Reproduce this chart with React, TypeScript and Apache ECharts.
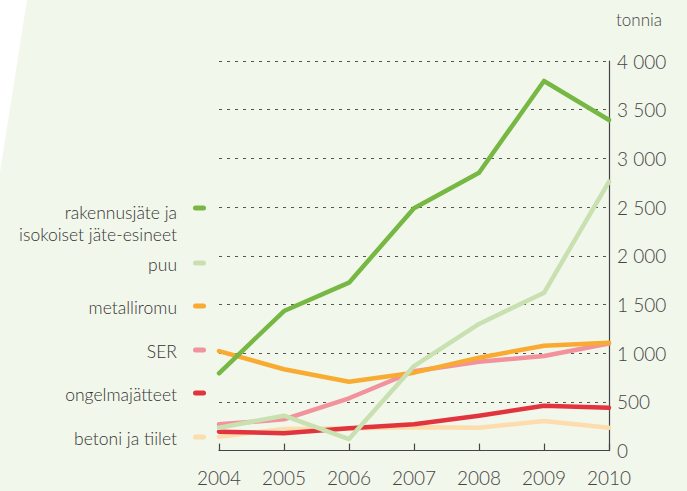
import React, { useEffect, useRef } from "react";
import * as echarts from "echarts";

const years = ["2004", "2005", "2006", "2007", "2008", "2009", "2010"];
const seriesNames = [
  "rakennusjäte ja\nisokoiset jäte-esineet",
  "puu",
  "metalliromu",
  "SER",
  "ongelmajätteet",
  "betoni ja tiilet",
];
const rakennusjate = [794, 1433, 1724, 2488, 2853, 3795, 3394];
const puu = [235, 358, 119, 868, 1300, 1620, 2761];
const metalliromu = [1022, 835, 707, 800, 954, 1077, 1108];
const ser = [270, 321, 537, 815, 913, 971, 1100];
const ongelmajatteet = [194, 178, 229, 270, 358, 461, 440];
const betoni = [143, 222, 228, 239, 235, 304, 235];
const yTicks = [0, 500, 1000, 1500, 2000, 2500, 3000, 3500, 4000];
const unitLabel = "tonnia";

const colors = ["#76b843", "#c9e0b1", "#f9aa30", "#f2929c", "#e2343f", "#fddcae"];
const values = [rakennusjate, puu, metalliromu, ser, ongelmajatteet, betoni];
const legendY = [208, 263, 306, 350, 393, 437];

const FONT = "Lato, 'Noto Sans', sans-serif";

export default function App() {
  const ref = useRef<HTMLDivElement>(null);
  useEffect(() => {
    if (!ref.current) return;
    const chart = echarts.init(ref.current, null, { renderer: "svg" });
    const series: any[] = values
      .map((v, i) => ({
        type: "line",
        name: seriesNames[i],
        data: v,
        symbol: "none",
        lineStyle: { color: colors[i], width: 4.5, cap: "round", join: "round" },
        itemStyle: { color: colors[i] },
      }))
      .reverse();

    const graphics: any[] = [
      {
        type: "polygon",
        silent: true,
        z: -10,
        shape: { points: [[0, 0], [27, 0], [0, 172]] },
        style: { fill: "#ffffff" },
      },
      {
        type: "text",
        x: 662,
        y: 19,
        style: {
          text: unitLabel,
          fill: "#444",
          font: `300 17px ${FONT}`,
          textAlign: "right",
          textVerticalAlign: "middle",
        },
      },
    ];
    seriesNames.forEach((n, i) => {
      const lines = n.split("\n");
      const multi = lines.length > 1;
      lines.forEach((ln, j) => {
        graphics.push({
          type: "text",
          x: 177,
          y: legendY[i] + (multi ? 4 : 1) + j * 22,
          style: {
            text: ln,
            fill: "#333",
            font: `300 17.5px ${FONT}`,
            textAlign: "right",
            textVerticalAlign: "middle",
          },
        });
      });
      graphics.push({
        type: "rect",
        shape: { x: 193, y: legendY[i] - 2.5, width: 13, height: 5, r: 2.5 },
        style: { fill: colors[i] },
      });
    });

    chart.setOption({
      animation: false,
      backgroundColor: "#f2f7eb",
      grid: { left: 219, right: 78, top: 61, bottom: 40.4, containLabel: false },
      xAxis: {
        type: "category",
        data: years,
        boundaryGap: false,
        axisLine: { show: true, lineStyle: { color: "#444", width: 1.2 } },
        axisTick: { show: true, inside: true, length: 7, lineStyle: { color: "#444", width: 1.2 } },
        axisLabel: { color: "#444", fontSize: 19, fontFamily: FONT, fontWeight: 300, margin: 17 },
        splitLine: { show: false },
      },
      yAxis: {
        type: "value",
        position: "right",
        min: 0,
        max: yTicks[yTicks.length - 1],
        interval: yTicks[1] - yTicks[0],
        axisLine: { show: true, lineStyle: { color: "#444", width: 1.2 } },
        axisTick: { show: false },
        axisLabel: {
          color: "#444",
          fontSize: 19,
          fontFamily: FONT,
          fontWeight: 300,
          margin: 8,
          formatter: (v: number) => (v >= 1000 ? String(v).replace(/(\d)(?=(\d{3})$)/, "$1 ") : String(v)),
        },
        splitLine: {
          show: true,
          lineStyle: { color: "#555", type: [3, 5], width: 1.2 },
        },
      },
      graphic: graphics,
      series,
    });
    return () => chart.dispose();
  }, []);
  return (
    <div
      ref={ref}
      style={{ position: "fixed", left: 0, top: 0, width: 687, height: 491 }}
    />
  );
}
